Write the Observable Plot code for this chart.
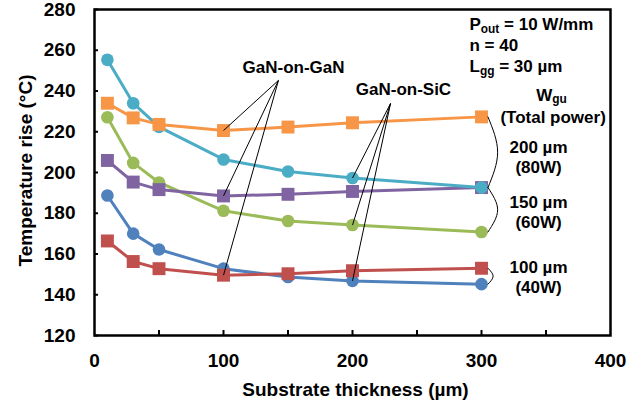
<!DOCTYPE html>
<html><head><meta charset="utf-8">
<script src="https://cdn.jsdelivr.net/npm/d3@7"></script>
<script src="https://cdn.jsdelivr.net/npm/@observablehq/plot@0.6"></script>
<style>body{margin:0;background:#fff}</style>
</head><body><div id="chart"></div>
<script>
// Substrate thickness (µm)
const thickness = [10, 30, 50, 100, 150, 200, 300];
// Temperature rise (°C)
const sicW200 = [255.3, 234.0, 222.4, 206.4, 200.5, 197.3, 192.6];
const ganW200 = [234.0, 226.8, 223.6, 220.6, 222.3, 224.4, 227.3];
const sicW150 = [227.1, 204.7, 195.1, 181.2, 176.2, 174.2, 170.8];
const ganW150 = [205.9, 195.3, 191.6, 188.5, 189.3, 190.7, 192.6];
const sicW100 = [188.7, 170.0, 162.2, 152.8, 148.7, 146.8, 145.2];
const ganW100 = [166.4, 156.3, 152.8, 149.6, 150.3, 151.8, 153.0];

const xTicks = [0, 100, 200, 300, 400];
const xMinorTicks = [50, 100, 150, 200, 250, 300, 350];
const yTicks = [120, 140, 160, 180, 200, 220, 240, 260, 280];

const series = [
  {values: sicW100, color: "#4F81BD", symbol: "circle"},
  {values: ganW100, color: "#C0504D", symbol: "square"},
  {values: sicW150, color: "#9BBB59", symbol: "circle"},
  {values: ganW150, color: "#8064A2", symbol: "square"},
  {values: sicW200, color: "#4BACC6", symbol: "circle"},
  {values: ganW200, color: "#F79646", symbol: "square"}
];

const seriesMarks = series.flatMap(s => {
  const rows = thickness.map((t, i) => ({x: t, y: s.values[i]}));
  return [
    Plot.line(rows, {x: "x", y: "y", stroke: s.color, strokeWidth: 3}),
    Plot.dot(rows, {x: "x", y: "y", fill: s.color, symbol: s.symbol, r: s.symbol === "circle" ? 6.3 : 7.3})
  ];
});

// leader lines from labels to points
const ganIdx = 3, sicIdx = 5;
const leaders = [
  ...[ganW200, ganW150, ganW100].map(v => ({x1: 142.6, y1: 245.2, x2: thickness[ganIdx], y2: v[ganIdx]})),
  ...[sicW200, sicW150, sicW100].map(v => ({x1: 229.5, y1: 233.9, x2: thickness[sicIdx], y2: v[sicIdx]}))
];

// braces on the right
const last = thickness.length - 1;
const braces = [
  {top: ganW200[last], bottom: sicW200[last], bulge: 312.5},
  {top: ganW150[last], bottom: sicW150[last], bulge: 312.5},
  {top: ganW100[last], bottom: sicW100[last], bulge: 309}
];
const braceMarks = braces.map(b => Plot.line([
  {x: 305, y: b.top},
  {x: b.bulge, y: (b.top + b.bottom) / 2},
  {x: 305, y: b.bottom}
], {x: "x", y: "y", curve: "natural", stroke: "black", strokeWidth: 1}));

const notesLeft = [
  {x: 290.7, y: 269.9, text: "P_{out} = 10 W/mm"},
  {x: 290.7, y: 259.7, text: "n = 40"},
  {x: 290.7, y: 249.1, text: "L_{gg} = 30 µm"}
];
const notesCenter = [
  {x: 154.3, y: 248.6, text: "GaN-on-GaN"},
  {x: 239.5, y: 237.8, text: "GaN-on-SiC"},
  {x: 354.3, y: 235.3, text: "W_{gu}"},
  {x: 355.5, y: 224.5, text: "(Total power)"},
  {x: 344.2, y: 209.8, text: "200 µm"},
  {x: 344.2, y: 200.0, text: "(80W)"},
  {x: 344.2, y: 182.8, text: "150 µm"},
  {x: 344.2, y: 173.0, text: "(60W)"},
  {x: 344.2, y: 150.9, text: "100 µm"},
  {x: 344.2, y: 141.1, text: "(40W)"}
];

const chart = Plot.plot({
  width: 641,
  height: 402,
  marginLeft: 94,
  marginRight: 31,
  marginTop: 9,
  marginBottom: 67,
  style: {fontFamily: "'Liberation Sans', Arial, sans-serif", fontWeight: "bold", fontSize: "19px", color: "black", background: "white"},
  x: {domain: [0, 400]},
  y: {domain: [120, 280]},
  marks: [
    Plot.axisY({ticks: yTicks, tickSize: 0, tickPadding: 19, label: null, fontSize: 19}),
    Plot.axisX({ticks: xTicks, tickSize: 0, tickPadding: 18, label: null, fontSize: 19}),
    Plot.ruleX(xMinorTicks, {x: d => d, insetTop: 321, stroke: "black", strokeWidth: 2}),
    Plot.ruleY(yTicks, {y: d => d, insetRight: 512, stroke: "black", strokeWidth: 2}),
    ...seriesMarks,
    Plot.link(leaders, {x1: "x1", y1: "y1", x2: "x2", y2: "y2", stroke: "black", strokeWidth: 1}),
    ...braceMarks,
    Plot.text(notesLeft, {x: "x", y: "y", text: "text", textAnchor: "start", lineAnchor: "bottom", fontSize: 17, fontWeight: "bold", fill: "black"}),
    Plot.text(notesCenter, {x: "x", y: "y", text: "text", textAnchor: "middle", lineAnchor: "bottom", fontSize: 17, fontWeight: "bold", fill: "black"}),
    Plot.text(["Substrate thickness (µm)"], {frameAnchor: "bottom", textAnchor: "middle", dx: 3, dy: 60, lineAnchor: "bottom", fontSize: 19, fontWeight: "bold", fill: "black"}),
    Plot.text(["Temperature rise (°C)"], {frameAnchor: "left", textAnchor: "middle", dx: -63, dy: -2, rotate: -90, lineAnchor: "bottom", fontSize: 19, fontWeight: "bold", fill: "black"}),
    Plot.frame({stroke: "black", strokeWidth: 2.5})
  ]
});

// subscripts: rewrite "A_{sub} rest" into tspans
d3.select(chart).selectAll("text").each(function() {
  const el = this;
  const tspans = el.querySelectorAll("tspan");
  const target = tspans.length ? tspans[0] : el;
  const t = target.textContent;
  const m = t.match(/^(.*)_\{(.*?)\}(.*)$/);
  if (!m) return;
  const sel = d3.select(target);
  sel.text(null);
  sel.append("tspan").text(m[1]);
  sel.append("tspan").attr("font-size", "0.7em").attr("dy", "0.22em").text(m[2]);
  if (m[3]) sel.append("tspan").attr("dy", "-0.154em").text(m[3]);
});

document.getElementById("chart").appendChild(chart);
</script>
</body></html>
